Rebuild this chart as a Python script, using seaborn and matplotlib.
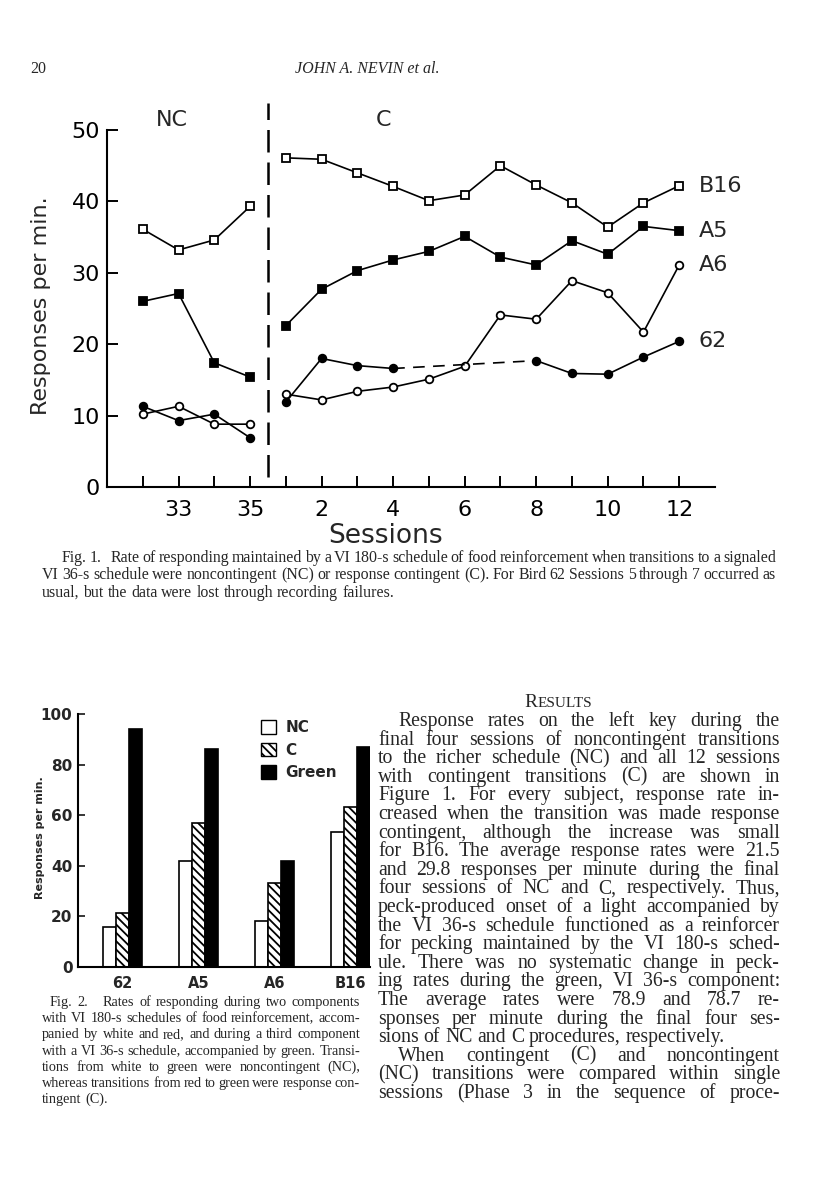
import numpy as np
import pandas as pd
import matplotlib
matplotlib.use("Agg")
import matplotlib.pyplot as plt
from matplotlib.patches import Patch
import seaborn as sns

# Fig. 1 data: responses per minute, last 4 NC sessions and 12 C sessions
nc_sessions = [32, 33, 34, 35]
c_sessions = list(range(1, 13))
b16_nc = [36.1, 33.2, 34.6, 39.3]
a5_nc = [26.0, 27.1, 17.4, 15.4]
a6_nc = [10.2, 11.3, 8.8, 8.8]
p62_nc = [11.3, 9.3, 10.2, 6.9]
b16_c = [46.1, 45.9, 44.0, 42.1, 40.1, 40.9, 45.0, 42.3, 39.8, 36.4, 39.8, 42.2]
a5_c = [22.6, 27.7, 30.3, 31.8, 33.0, 35.1, 32.2, 31.1, 34.5, 32.6, 36.5, 35.9]
a6_c = [13.0, 12.2, 13.4, 14.0, 15.1, 16.9, 24.1, 23.5, 28.9, 27.2, 21.7, 31.1]
# bird 62: sessions 5-7 lost
p62_c = [11.9, 18.0, 17.0, 16.6, np.nan, np.nan, np.nan, 17.7, 15.9, 15.8, 18.2, 20.4]
x_ticklabels = ["33", "35", "2", "4", "6", "8", "10", "12"]

# Fig. 2 data
birds = ["62", "A5", "A6", "B16"]
nc_bar = [15.6, 41.9, 18.0, 53.2]
c_bar = [21.2, 57.1, 33.3, 63.2]
green_bar = [94.3, 86.3, 41.9, 87.1]

W, H = 816, 1193
sns.set_theme(style="white")
plt.rcParams["font.family"] = ["DejaVu Sans"]
plt.rcParams["hatch.linewidth"] = 1.3

fig = plt.figure(figsize=(W / 100, H / 100), dpi=100)


def fx(px):
    return px / W


def fy(py):
    return 1 - py / H


# ---------------- Fig. 1 ----------------
ax1 = fig.add_axes([fx(107), fy(487), fx(715) - fx(107), fy(130) - fy(487)])
# NC sessions at index 0..3, C sessions at 4..15
nc_x = np.arange(len(nc_sessions))
c_x = np.arange(len(c_sessions)) + 4

series = [
    (b16_nc, b16_c, "s", "white"),
    (a5_nc, a5_c, "s", "black"),
    (a6_nc, a6_c, "o", "white"),
    (p62_nc, p62_c, "o", "black"),
]
style = dict(color="black", linewidth=1.2, markersize=5.5, markeredgewidth=1.3,
             markeredgecolor="black")
for nc_vals, c_vals, mk, face in series:
    sns.lineplot(x=nc_x, y=nc_vals, marker=mk, markerfacecolor=face, ax=ax1, **style)
    cv = np.array(c_vals)
    ok = ~np.isnan(cv)
    if ok.all():
        sns.lineplot(x=c_x, y=cv, marker=mk, markerfacecolor=face, ax=ax1, **style)
    else:
        # split at missing sessions and bridge with a dashed line
        gap_at = np.argmax(~ok)
        first = np.arange(len(cv))[:gap_at]
        last = np.arange(len(cv))[gap_at:][ok[gap_at:]]
        sns.lineplot(x=c_x[first], y=cv[first], marker=mk, markerfacecolor=face, ax=ax1, **style)
        sns.lineplot(x=c_x[last], y=cv[last], marker=mk, markerfacecolor=face, ax=ax1, **style)
        ax1.plot([c_x[first[-1]], c_x[last[0]]], [cv[first[-1]], cv[last[0]]],
                 color="black", linewidth=1.2, dashes=(7, 5))

ax1.axvline(3.5, ymin=0.028, ymax=1.076, color="black", linewidth=1.8,
            dashes=(9, 4), clip_on=False)
ax1.set_xlim(-1, 16)
ax1.set_ylim(0, 50)
ax1.set_xticks(np.arange(16), minor=True)
ax1.set_xticks([1, 3, 5, 7, 9, 11, 13, 15])
ax1.set_xticklabels(x_ticklabels)
ax1.set_yticks([0, 10, 20, 30, 40, 50])
ax1.tick_params(axis="both", which="both", direction="in", length=8, width=1.4,
                labelsize=16, color="black", labelcolor="black")
ax1.tick_params(axis="x", which="both", pad=9, bottom=True)
ax1.tick_params(axis="y", pad=5, left=True)
sns.despine(ax=ax1)
for s in ["left", "bottom"]:
    ax1.spines[s].set_color("black")
    ax1.spines[s].set_linewidth(1.5)
ax1.set_xlabel("")
ax1.set_ylabel("")

ax1.text(0.8, 51.4, "NC", fontsize=16, ha="center", va="center")
ax1.text(6.72, 51.4, "C", fontsize=16, ha="center", va="center")
for lab, vals in [("B16", b16_c), ("A5", a5_c), ("A6", a6_c), ("62", p62_c)]:
    ax1.text(15.55, vals[-1], lab, fontsize=16, ha="left", va="center", clip_on=False)

fig.text(fx(41), fy(306), "Responses per min.", rotation=90, fontsize=16,
         ha="center", va="center")
fig.text(fx(386), fy(536), "Sessions", fontsize=19, ha="center", va="center")

# ---------------- Fig. 2 ----------------
ax2 = fig.add_axes([fx(78), fy(966.7), fx(370) - fx(78), fy(714.3) - fy(966.7)])
bar_df = pd.DataFrame({
    "bird": birds * 3,
    "cond": ["NC"] * 4 + ["C"] * 4 + ["Green"] * 4,
    "rate": nc_bar + c_bar + green_bar,
})
sns.barplot(data=bar_df, x="bird", y="rate", hue="cond", order=birds,
            hue_order=["NC", "C", "Green"], width=0.52, ax=ax2,
            palette=["white", "white", "black"], edgecolor="black",
            linewidth=1.2, legend=False, errorbar=None, saturation=1)
for i, p in enumerate(ax2.patches[:12]):
    if 4 <= i < 8:
        p.set_hatch("\\\\\\\\")
ax2.set_xlim(-0.59, 3.26)
ax2.set_ylim(0, 100)
ax2.set_yticks([0, 20, 40, 60, 80, 100])
ax2.tick_params(axis="y", direction="in", length=5, width=1.3, left=True,
                labelsize=11, pad=4)
ax2.tick_params(axis="x", length=0, labelsize=10.5, pad=7)
for t in ax2.get_xticklabels() + ax2.get_yticklabels():
    t.set_fontweight("bold")
sns.despine(ax=ax2)
for s in ["left", "bottom"]:
    ax2.spines[s].set_color("black")
    ax2.spines[s].set_linewidth(1.5)
ax2.set_xlabel("")
ax2.set_ylabel("")
fig.text(fx(40), fy(838), "Responses per min.", rotation=90, fontsize=8,
         fontweight="bold", ha="center", va="center")
handles = [Patch(facecolor="white", edgecolor="black", label="NC"),
           Patch(facecolor="white", edgecolor="black", hatch="\\\\\\\\", label="C"),
           Patch(facecolor="black", edgecolor="black", label="Green")]
leg = ax2.legend(handles=handles, loc="upper left",
                 bbox_to_anchor=((250 - 78) / 292, 1.02), frameon=False,
                 prop={"weight": "bold", "size": 11}, handlelength=1.0,
                 handleheight=1.0, handletextpad=0.6, labelspacing=0.5,
                 borderpad=0.2)

# ---------------- page text ----------------
renderer = fig.canvas.get_renderer()
serif = ["Liberation Serif", "DejaVu Serif"]


def put_line(text, x0, x1, base, size, justify, style="normal"):
    words = text.split(" ")
    objs = [fig.text(0, fy(base), w, fontsize=size, family=serif, style=style,
                     va="baseline", ha="left") for w in words]
    widths = [o.get_window_extent(renderer).width for o in objs]
    space = 0.25 * size * 100 / 72
    if justify and len(words) > 1:
        gap = (x1 - x0 - sum(widths)) / (len(words) - 1)
    else:
        gap = space
    x = x0
    for o, w in zip(objs, widths):
        o.set_x(fx(x))
        x += w + gap


fig.text(fx(30), fy(73), "20", fontsize=11.5, family=serif, va="baseline")
fig.text(fx(367), fy(73), "JOHN A. NEVIN et al.", fontsize=11.5, family=serif,
         style="italic", va="baseline", ha="center")

cap1 = [
    "Fig. 1.   Rate of responding maintained by a VI 180-s schedule of food reinforcement when transitions to a signaled",
    "VI 36-s schedule were noncontingent (NC) or response contingent (C). For Bird 62 Sessions 5 through 7 occurred as",
    "usual, but the data were lost through recording failures.",
]
for i, line in enumerate(cap1):
    x0 = 62 if i == 0 else 42
    put_line(line, x0, 776, 562 + 17.5 * i, 11.4, i < 2)

cap2 = [
    "Fig. 2.   Rates of responding during two components",
    "with VI 180-s schedules of food reinforcement, accom-",
    "panied by white and red, and during a third component",
    "with a VI 36-s schedule, accompanied by green. Transi-",
    "tions from white to green were noncontingent (NC),",
    "whereas transitions from red to green were response con-",
    "tingent (C).",
]
for i, line in enumerate(cap2):
    x0 = 50 if i == 0 else 42
    put_line(line, x0, 360, 1006 + 16.2 * i, 10.3, i < 6)

# small-caps heading
r = fig.text(0, fy(707), "R", fontsize=14, family=serif, va="baseline")
rest = fig.text(0, fy(707), "ESULTS", fontsize=11, family=serif, va="baseline")
wr = r.get_window_extent(renderer).width
wrest = rest.get_window_extent(renderer).width
start = 558 - (wr + wrest) / 2
r.set_x(fx(start))
rest.set_x(fx(start + wr + 0.5))

body = [
    "Response rates on the left key during the",
    "final four sessions of noncontingent transitions",
    "to the richer schedule (NC) and all 12 sessions",
    "with contingent transitions (C) are shown in",
    "Figure 1. For every subject, response rate in-",
    "creased when the transition was made response",
    "contingent, although the increase was small",
    "for B16. The average response rates were 21.5",
    "and 29.8 responses per minute during the final",
    "four sessions of NC and C, respectively. Thus,",
    "peck-produced onset of a light accompanied by",
    "the VI 36-s schedule functioned as a reinforcer",
    "for pecking maintained by the VI 180-s sched-",
    "ule. There was no systematic change in peck-",
    "ing rates during the green, VI 36-s component:",
    "The average rates were 78.9 and 78.7 re-",
    "sponses per minute during the final four ses-",
    "sions of NC and C procedures, respectively.",
    "When contingent (C) and noncontingent",
    "(NC) transitions were compared within single",
    "sessions (Phase 3 in the sequence of proce-",
]
for i, line in enumerate(body):
    x0 = 398 if i in (0, 18) else 378
    put_line(line, x0, 780, 726 + 18.6 * i, 14.2, i != 17)

fig.savefig("out.png", dpi=100, facecolor="white")
